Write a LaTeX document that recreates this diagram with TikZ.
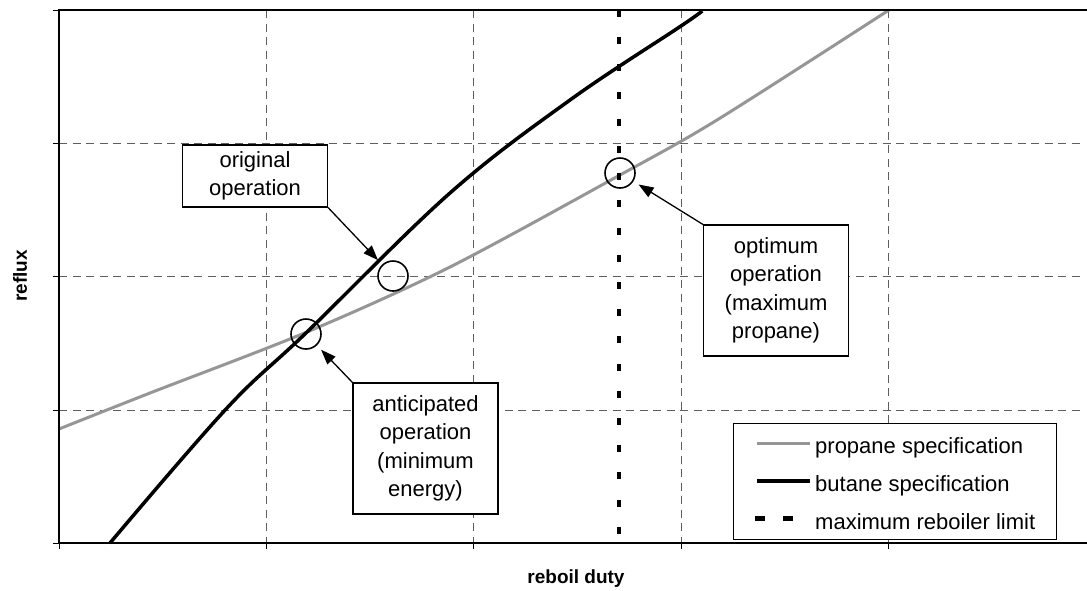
\documentclass[tikz,border=0pt]{standalone}
\usepackage{fontspec}
\setmainfont{Liberation Sans}
\usetikzlibrary{arrows.meta}
\definecolor{propgray}{RGB}{150,150,150}
\definecolor{gridgray}{RGB}{95,95,95}
\tikzset{
  gridline/.style={gridgray, line width=0.9pt, dash pattern=on 8pt off 5.5pt},
  opbox/.style={draw, fill=white, line width=1.2pt, minimum width=145pt, align=center,
    inner sep=0pt, font=\fontsize{22}{28.5}\selectfont},
  opcirc/.style={circle, draw, line width=1.6pt, minimum size=30pt, inner sep=0pt},
  pointer/.style={line width=1.3pt, -{Triangle[length=15pt,width=11pt]}, shorten >=6pt},
  legtext/.style={anchor=base west, inner sep=0pt, font=\fontsize{22}{26}\selectfont},
  axlabel/.style={font=\fontsize{19}{22}\selectfont\bfseries},
}
\begin{document}
\begin{tikzpicture}[x=1pt, y=-1pt]
  \useasboundingbox (0,0) rectangle (1087,590);

  % Grid
  \foreach \gx in {266,473,681,888}
    \draw[gridline] (\gx,10) -- (\gx,543);
  \foreach \gy in {143,276,410}
    \draw[gridline] (59,\gy) -- (1083,\gy);

  % Curves
  \draw[propgray, line width=3pt] plot[smooth] coordinates
    {(59,429) (150,393) (307,332) (450,267) (620,175) (717,120) (889,10)};
  \draw[line width=3.5pt] plot[smooth, tension=0.6] coordinates
    {(110,543) (227,408) (307,332) (450,193) (570,100) (681,26) (702,11)};
  \draw[line width=4pt, dash pattern=on 7pt off 20.2pt] (619,10) -- (619,543);

  % Axes
  \draw[line width=2pt] (1087,10) -- (59,10) -- (59,543) -- (1087,543);
  \foreach \gy in {10,143,276,410,543}
    \draw[line width=1pt] (53,\gy) -- (59,\gy);
  \foreach \gx in {59,266,473,681,888}
    \draw[line width=1pt] (\gx,543) -- (\gx,549);
  \node[axlabel, rotate=90] (ylab) at (20,276) {reflux};
  \node[axlabel] (xlab) at (576,579) {reboil duty};

  % Boxes
  \node[opbox, minimum height=62pt] (orig) at (255,176) {original\\operation};
  \node[opbox, minimum height=131pt] (antic) at (425.5,448.5) {anticipated\\operation\\(minimum\\energy)};
  \node[opbox, minimum height=131pt] (optim) at (776,290.5) {optimum\\operation\\(maximum\\propane)};

  % Circles
  \node[opcirc] (origc) at (393,276) {};
  \node[opcirc] (anticc) at (306,334) {};
  \node[opcirc] (optimc) at (620,173) {};

  % Arrows
  \draw[pointer] (orig.south east) -- (origc);
  \draw[pointer] (antic.north west) -- (anticc);
  \draw[pointer] (optim.north west) -- (optimc);

  % Legend
  \node[draw, line width=1pt, fill=white, minimum width=323pt, minimum height=116pt, inner sep=0pt] (legend) at (894.5,481) {};
  \coordinate (propa) at (757,443);
  \coordinate (propb) at (810,443);
  \coordinate (buta) at (757,481);
  \coordinate (butb) at (810,481);
  \coordinate (lima) at (755,518);
  \coordinate (limb) at (800,518);
  \draw[propgray, line width=3pt] (propa) -- (propb);
  \draw[line width=3.5pt] (buta) -- (butb);
  \draw[line width=5pt, dash pattern=on 10pt off 18pt] (lima) -- (limb);
  \node[legtext] (proptext) at (815,453) {propane specification};
  \node[legtext] (buttext) at (815,491) {butane specification};
  \node[legtext] (limtext) at (815,529) {maximum reboiler limit};
\end{tikzpicture}
\end{document}
